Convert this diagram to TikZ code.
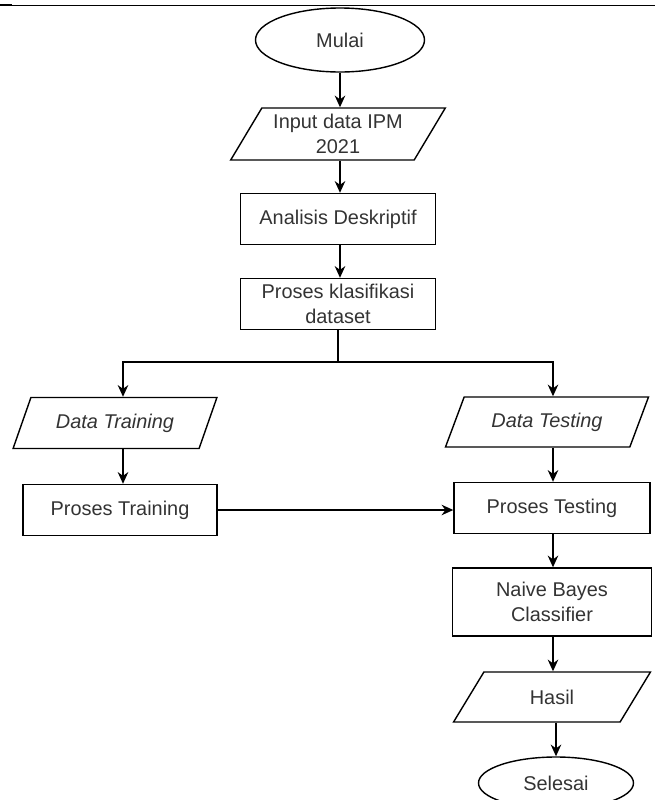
\documentclass[tikz,border=0pt]{standalone}
\usepackage{fontspec}
\setmainfont{Liberation Sans}
\usetikzlibrary{shapes.geometric,arrows.meta}
\definecolor{teksabu}{HTML}{333333}
\tikzset{
  dasar/.style={draw, line width=1.2pt, text=teksabu, font=\fontsize{17}{21}\selectfont, align=center, inner sep=0pt},
  terminal/.style={dasar, ellipse},
  proses/.style={dasar, rectangle, minimum width=5.85cm, minimum height=1.53cm},
  io/.style={dasar, trapezium, trapezium left angle=56, trapezium right angle=124, trapezium stretches=true, minimum width=6.1cm, minimum height=1.53cm},
  panah/.style={-{Stealth[length=10pt,width=9pt]}, line width=1.2pt},
}
\begin{document}
\begin{tikzpicture}[x=0.03cm, y=-0.03cm]
\useasboundingbox (0,0) rectangle (659,800);
\draw[line width=0.6pt] (0,5) -- (655,5);
\draw[line width=2pt] (0,5) -- (12,5);

\node[terminal, minimum width=5.07cm, minimum height=1.92cm] (mulai) at (340,40) {Mulai};
\node[io, minimum width=6.45cm, minimum height=1.56cm] (input) at (338,134) {Input data IPM\\2021};
\node[proses] (analisis) at (338,219) {Analisis Deskriptif};
\node[proses] (klasifikasi) at (338,304) {Proses klasifikasi\\dataset};

\coordinate (tengah) at (340,0);
\coordinate (cabang) at (338,362);
\coordinate (kiri) at (123,362);
\coordinate (kanan) at (553,362);

\node[io, minimum width=6.12cm] (dtrain) at (115,423) {\itshape Data Training};
\node[proses, minimum width=5.82cm] (ptrain) at (120,510) {Proses Training};

\node[io, minimum width=6.09cm, minimum height=1.5cm] (dtest) at (547,422) {\itshape Data Testing};
\node[proses, minimum width=5.88cm] (ptest) at (552,508) {Proses Testing};
\node[proses, minimum width=5.97cm, minimum height=2.04cm] (naive) at (552,602) {Naive Bayes\\Classifier};
\node[io, minimum width=5.91cm, minimum height=1.5cm] (hasil) at (552,697) {Hasil};
\node[terminal, minimum width=4.65cm, minimum height=1.56cm] (selesai) at (556,783) {Selesai};

\draw[panah] (mulai.south -| tengah) -- (input.north -| tengah);
\draw[panah] (input.south -| tengah) -- (analisis.north -| tengah);
\draw[panah] (analisis.south -| tengah) -- (klasifikasi.north -| tengah);
\draw[line width=1.2pt] (klasifikasi.south) -- (cabang);
\draw[panah] (cabang) -- (kiri) -- (dtrain.north -| kiri);
\draw[panah] (cabang) -- (kanan) -- (dtest.north -| kanan);
\draw[panah] (dtrain.south -| kiri) -- (ptrain.north -| kiri);
\draw[panah] (ptrain.east) -- (ptrain.east -| ptest.west);
\draw[panah] (dtest.south -| kanan) -- (ptest.north -| kanan);
\draw[panah] (ptest.south -| kanan) -- (naive.north -| kanan);
\draw[panah] (naive.south -| kanan) -- (hasil.north -| kanan);
\draw[panah] (hasil.south -| selesai) -- (selesai.north);

\end{tikzpicture}
\end{document}
